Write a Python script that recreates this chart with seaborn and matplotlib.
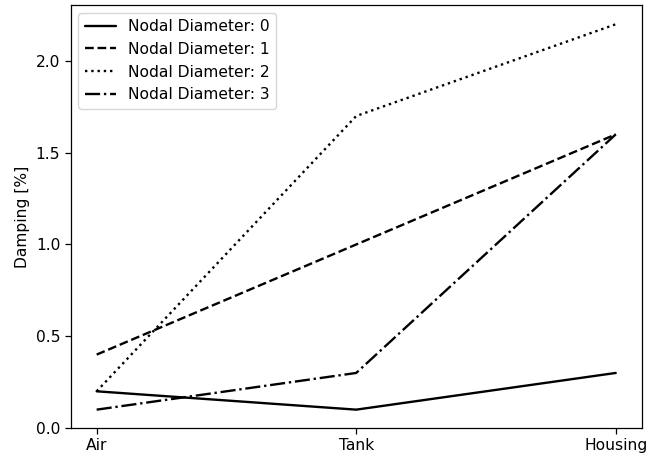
import matplotlib
matplotlib.use("Agg")
import matplotlib.pyplot as plt
import seaborn as sns
import pandas as pd

conditions = ["Air", "Tank", "Housing"]
nd0 = [0.2, 0.1, 0.3]
nd1 = [0.4, 1.0, 1.6]
nd2 = [0.2, 1.7, 2.2]
nd3 = [0.1, 0.3, 1.6]
labels = ["Nodal Diameter: 0", "Nodal Diameter: 1", "Nodal Diameter: 2", "Nodal Diameter: 3"]

sns.set_style("ticks")
plt.rcParams['font.family'] = ['DejaVu Sans']
plt.rcParams['font.size'] = 11.2
plt.rcParams['text.color'] = 'black'
plt.rcParams['axes.labelcolor'] = 'black'
plt.rcParams['xtick.color'] = 'black'
plt.rcParams['ytick.color'] = 'black'

rows = []
for lab, vals in zip(labels, [nd0, nd1, nd2, nd3]):
    for i, (c, v) in enumerate(zip(conditions, vals)):
        rows.append({"x": i, "cond": c, "Damping": v, "series": lab})
df = pd.DataFrame(rows)

fig = plt.figure(figsize=(6.47, 4.57), dpi=100)
ax = fig.add_axes([70.7/647, 1-428/457, (641.7-70.7)/647, (428-5)/457])

styles = ["-", "--", ":", "-."]
for lab, ls in zip(labels, styles):
    sub = df[df["series"] == lab]
    sns.lineplot(data=sub, x="x", y="Damping", ax=ax, color="black", linestyle=ls,
                 linewidth=1.7, label=lab)

ax.set_xticks(range(len(conditions)))
ax.set_xticklabels(conditions)
ax.set_xlabel("")
ax.set_ylabel("Damping [%]", fontsize=11.2, color="black")
ax.set_ylim(bottom=0)
ax.set_yticks([0.0, 0.5, 1.0, 1.5, 2.0])
for s in ax.spines.values():
    s.set_visible(True)
    s.set_color("black")
    s.set_linewidth(0.9)
ax.tick_params(colors="black", labelcolor="black", labelsize=11.2, length=4, width=0.9)
leg = ax.legend(loc="upper left", fontsize=11.2, frameon=True)
for t in leg.get_texts():
    t.set_color("black")

fig.savefig("out.png", dpi=100)
